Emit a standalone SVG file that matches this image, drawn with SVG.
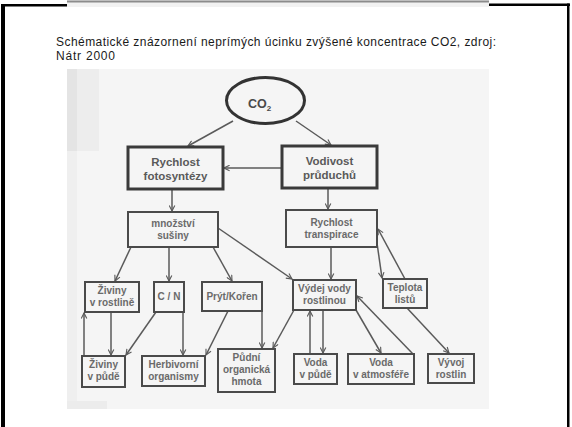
<svg xmlns="http://www.w3.org/2000/svg" width="572" height="427" viewBox="0 0 572 427">
<defs>
<style>
.cap{font-family:"Liberation Sans",Arial,sans-serif;font-size:12px;fill:#1a1a1a}
.box{fill:none;stroke:#4a4a4a;stroke-width:2}
.bbox{fill:none;stroke:#3a3a3a;stroke-width:3}
.t{font-family:"Liberation Sans",Arial,sans-serif;font-size:10px;font-weight:bold;fill:#6a6a6a;text-anchor:middle}
.tb{font-family:"Liberation Sans",Arial,sans-serif;font-size:11.5px;font-weight:bold;fill:#5a5a5a;text-anchor:middle}
.c{fill:none;stroke:#5a5a5a;stroke-width:1.5;marker-end:url(#ah)}
</style>
<marker id="ah" viewBox="0 0 10 10" refX="9" refY="5" markerWidth="7" markerHeight="7" markerUnits="userSpaceOnUse" orient="auto">
<path d="M1,1 L9,5 L1,9" fill="none" stroke="#5a5a5a" stroke-width="1.6"/>
</marker>
</defs>
<rect width="572" height="427" fill="#ffffff"/>
<!-- frame -->
<rect x="67" y="0" width="422" height="7" fill="#f2f2f2"/>
<rect x="67" y="0.5" width="422" height="2" fill="#8c8c8c"/>
<rect x="1" y="4" width="4" height="423" fill="#000"/>
<rect x="1" y="4" width="66" height="2.5" fill="#000"/>
<rect x="489" y="3.5" width="81" height="2.5" fill="#000"/>
<rect x="567" y="3.5" width="2.5" height="424" fill="#000"/>
<!-- caption -->
<text class="cap" x="56" y="46" textLength="440" lengthAdjust="spacing">Schématické znázornení neprímých úcinku zvýšené koncentrace CO2, zdroj:</text>
<text class="cap" x="56" y="60" textLength="59" lengthAdjust="spacing">Nátr 2000</text>
<!-- scan background -->
<rect x="67" y="69" width="422" height="340" fill="#f5f5f5"/>
<rect x="67" y="69" width="10" height="82" fill="#e4e4e4"/>
<rect x="77" y="69" width="22" height="82" fill="#ededed"/>
<rect x="67" y="151" width="10" height="250" fill="#efefef"/>
<rect x="67" y="401" width="40" height="8" fill="#ececec"/>
<!-- connectors -->
<g id="connectors">
<path class="c" d="M233,121 L188,146"/>
<path class="c" d="M296,121 L331,145"/>
<path class="c" d="M282,168 L224,168"/>
<path class="c" d="M172,190 L172,211"/>
<path class="c" d="M328,189 L328,209"/>
<path class="c" d="M131,247 L115,281"/>
<path class="c" d="M169,247 L169,281"/>
<path class="c" d="M213,247 L232,281"/>
<path class="c" d="M218,228 L292,279"/>
<path class="c" d="M111,312 L111,355"/>
<path class="c" d="M84,356 L84,313"/>
<path class="c" d="M156,312 L126,355"/>
<path class="c" d="M183,312 L183,355"/>
<path class="c" d="M228,311 L206,355"/>
<path class="c" d="M262,311 L262,348"/>
<path class="c" d="M294,310 L273,348"/>
<path class="c" d="M331,247 L331,279"/>
<path class="c" d="M310,354 L310,311"/>
<path class="c" d="M323,310 L323,353"/>
<path class="c" d="M356,310 L381,353"/>
<path class="c" d="M413,354 L357,296"/>
<path class="c" d="M405,279 L378,229"/>
<path class="c" d="M377,243 L382,278"/>
<path class="c" d="M407,308 L449,353"/>
</g>
<!-- nodes -->
<g id="co2">
<ellipse cx="265.5" cy="100.5" rx="39" ry="23" fill="none" stroke="#333" stroke-width="3"/>
<text x="248" y="108" font-family="Liberation Sans,Arial,sans-serif" font-size="12.5" font-weight="bold" fill="#4a4a4a">CO<tspan font-size="8" dy="3">2</tspan></text>
</g>
<g id="fotosyntezy">
<rect class="bbox" x="128" y="147" width="95" height="42"/>
<text class="tb" x="175.5" y="166">Rychlost</text>
<text class="tb" x="175.5" y="180">fotosyntézy</text>
</g>
<g id="vodivost">
<rect class="bbox" x="282" y="146" width="95" height="42"/>
<text class="tb" x="329.5" y="165">Vodivost</text>
<text class="tb" x="329.5" y="179">průduchů</text>
</g>
<g id="susiny">
<rect class="box" x="128" y="212" width="90" height="35"/>
<text class="t" x="173" y="227">množství</text>
<text class="t" x="173" y="239">sušiny</text>
</g>
<g id="transpirace">
<rect class="box" x="286" y="210" width="91" height="37"/>
<text class="t" x="331.5" y="226">Rychlost</text>
<text class="t" x="331.5" y="238">transpirace</text>
</g>
<g id="ziviny-rostline">
<rect class="box" x="85" y="282" width="54" height="30"/>
<text class="t" x="112" y="294">Živiny</text>
<text class="t" x="112" y="306">v rostlině</text>
</g>
<g id="cn">
<rect class="box" x="154" y="282" width="30" height="30"/>
<text class="t" x="169" y="300">C / N</text>
</g>
<g id="prytkoren">
<rect class="box" x="202" y="282" width="60" height="29"/>
<text class="t" x="232" y="300">Prýt/Kořen</text>
</g>
<g id="vydej">
<rect class="box" x="293" y="280" width="63" height="30"/>
<text class="t" x="324.5" y="292">Výdej vody</text>
<text class="t" x="324.5" y="304">rostlinou</text>
</g>
<g id="teplota">
<rect class="box" x="383" y="279" width="44" height="29"/>
<text class="t" x="405" y="291">Teplota</text>
<text class="t" x="405" y="303">listů</text>
</g>
<g id="ziviny-pude">
<rect class="box" x="82" y="356" width="43" height="31"/>
<text class="t" x="103.5" y="368">Živiny</text>
<text class="t" x="103.5" y="380">v půdě</text>
</g>
<g id="herbivorni">
<rect class="box" x="142" y="356" width="63" height="30"/>
<text class="t" x="173.5" y="368">Herbivorní</text>
<text class="t" x="173.5" y="380">organismy</text>
</g>
<g id="pudni">
<rect class="box" x="218" y="349" width="57" height="43"/>
<text class="t" x="246.5" y="361">Půdní</text>
<text class="t" x="246.5" y="373">organická</text>
<text class="t" x="246.5" y="385">hmota</text>
</g>
<g id="voda-pude">
<rect class="box" x="294" y="354" width="43" height="30"/>
<text class="t" x="315.5" y="366">Voda</text>
<text class="t" x="315.5" y="378">v půdě</text>
</g>
<g id="voda-atmosfere">
<rect class="box" x="348" y="354" width="66" height="30"/>
<text class="t" x="381" y="366">Voda</text>
<text class="t" x="381" y="378">v atmosféře</text>
</g>
<g id="vyvoj">
<rect class="box" x="428" y="354" width="46" height="29"/>
<text class="t" x="451" y="366">Vývoj</text>
<text class="t" x="451" y="378">rostlin</text>
</g>
</svg>
